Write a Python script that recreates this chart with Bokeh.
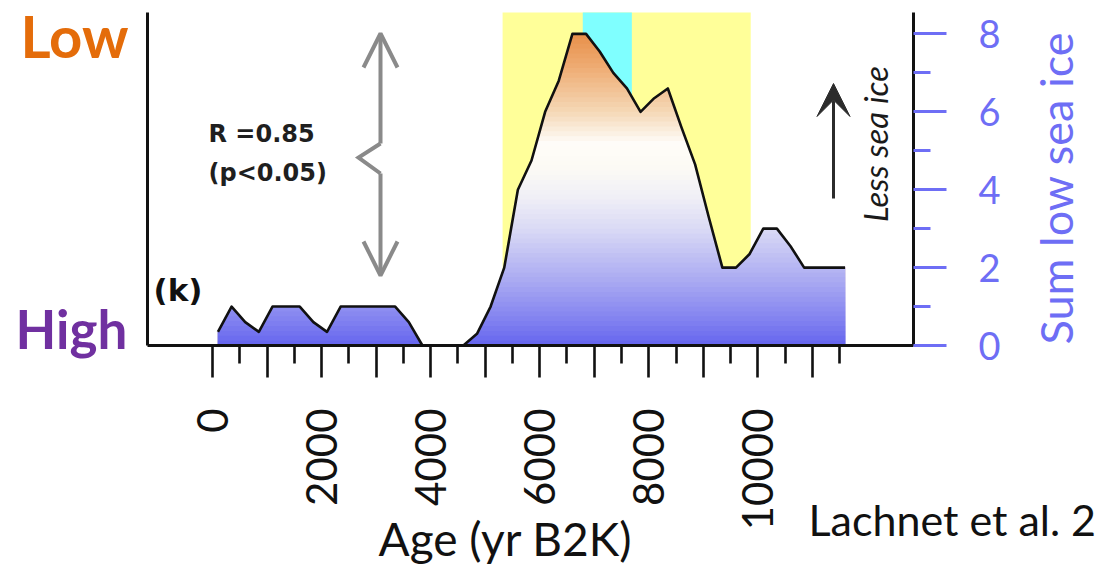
import numpy as np
from bokeh.plotting import figure
from bokeh.models import (Range1d, LinearAxis, FixedTicker, Label, Arrow,
                          OpenHead, VeeHead, BoxAnnotation)
from bokeh.embed import file_html
from bokeh.resources import INLINE

# ---------------- data ----------------
age_yr = [100, 350, 600, 850, 1100, 1350, 1600, 1850, 2100, 2350, 2600, 2850,
          3100, 3350, 3600, 3850, 4100, 4350, 4600, 4850, 5100, 5350, 5600,
          5850, 6100, 6350, 6600, 6850, 7100, 7350, 7600, 7850, 8100, 8350,
          8600, 8850, 9100, 9350, 9600, 9850, 10100, 10350, 10600, 10850,
          11100, 11350, 11600]
sum_low_sea_ice = [0.35, 1.0, 0.6, 0.35, 1.0, 1.0, 1.0, 0.6, 0.35, 1.0, 1.0, 1.0,
                   1.0, 1.0, 0.6, 0.0, 0.0, 0.0, 0.0, 0.3, 1.0, 2.0, 4.0,
                   4.75, 6.0, 6.8, 8.0, 8.0, 7.55, 7.0, 6.6, 6.0, 6.35, 6.6,
                   5.6, 4.65, 3.3, 2.0, 2.0, 2.35, 3.0, 3.0, 2.55, 2.0,
                   2.0, 2.0, 2.0]
yellow_period = [5320, 9870]
cyan_period = [6790, 7690]
x_major_ticks = [0, 1000, 2000, 3000, 4000, 5000, 6000, 7000, 8000, 9000, 10000, 11000]
x_minor_ticks = [500, 1500, 2500, 3500, 4500, 5500, 6500, 7500, 8500, 9500, 10500, 11500]
x_tick_labels = {0: "0", 2000: "2000", 4000: "4000", 6000: "6000", 8000: "8000", 10000: "10000"}
y_major_ticks = [0, 2, 4, 6, 8]
y_minor_ticks = [1, 3, 5, 7]

# ---------------- layout ----------------
W, H = 1095, 576
# axes box in pixels: left 147, right 913, top 12, bottom (value 0) 345
YR_PER_PX = (12855 + 1192) / (913 - 147)
VAL_PER_PX = 8.55 / (345 - 12)

def X(px):
    return -1192 + (px - 147) * YR_PER_PX

def Y(py):
    return (345 - py) * VAL_PER_PX

p = figure(width=W, height=H, x_range=Range1d(X(0), X(W)), y_range=Range1d(Y(H), Y(0)),
           x_axis_location=None, y_axis_location=None, toolbar_location=None,
           output_backend="svg", min_border=0, min_border_left=0, min_border_right=0,
           min_border_top=0, min_border_bottom=0, outline_line_color=None,
           background_fill_color="white", border_fill_color="white")
for g in p.grid:
    g.visible = False

BLUE = "#6E6EF5"
TOP = Y(12)

# background periods
p.add_layout(BoxAnnotation(left=yellow_period[0], right=yellow_period[1], bottom=0, top=TOP,
                           fill_color="#FFFF99", fill_alpha=1, line_color=None,
                           level="underlay"))
p.add_layout(BoxAnnotation(left=cyan_period[0], right=cyan_period[1], bottom=0, top=TOP,
                           fill_color="#7FFFFF", fill_alpha=1, line_color=None,
                           level="underlay"))

# gradient fill under the curve (stacked capped areas)
stops = [(0.0, "#6464EE"), (0.6, "#8080F0"), (1.7, "#ABABF2"), (3.0, "#DADAF5"),
         (3.8, "#F0EFF6"), (4.6, "#FDFBF5"), (5.2, "#FEFCF8"), (6.0, "#F5D8B6"),
         (7.2, "#EEAA70"), (8.0, "#E8904A")]

def hex2rgb(h):
    return [int(h[i:i + 2], 16) for i in (1, 3, 5)]

def grad(v):
    for (v0, c0), (v1, c1) in zip(stops[:-1], stops[1:]):
        if v <= v1:
            t = max(0.0, (v - v0) / (v1 - v0))
            a, b = hex2rgb(c0), hex2rgb(c1)
            return "#%02x%02x%02x" % tuple(int(round(a[i] + t * (b[i] - a[i]))) for i in range(3))
    return stops[-1][1]

xa = np.array(age_yr, float)
ya = np.array(sum_low_sea_ice, float)

def capped(cap):
    xs, ys = [xa[0]], [min(ya[0], cap)]
    for i in range(len(xa) - 1):
        x0, x1, y0, y1 = xa[i], xa[i + 1], ya[i], ya[i + 1]
        if (y0 - cap) * (y1 - cap) < 0:
            xs.append(x0 + (cap - y0) * (x1 - x0) / (y1 - y0))
            ys.append(cap)
        xs.append(x1)
        ys.append(min(y1, cap))
    return xs, ys

N = 64
top = float(ya.max())
for k in range(N, 0, -1):
    cap = top * k / N
    xs, ys = capped(cap)
    p.varea(x=xs, y1=0, y2=ys, fill_color=grad(top * (k - 0.5) / N))

p.line(age_yr, sum_low_sea_ice, line_color="#111111", line_width=2.6, line_join="round")

# axes (drawn at fixed locations around the data box)
bottom = LinearAxis(ticker=FixedTicker(ticks=x_major_ticks, minor_ticks=x_minor_ticks),
                    major_label_overrides={t: x_tick_labels.get(t, "") for t in x_major_ticks},
                    fixed_location=0, bounds=(X(147), X(913)))
bottom.axis_line_color = "#111111"
bottom.axis_line_width = 3
bottom.major_tick_line_color = "#111111"
bottom.major_tick_line_width = 2.6
bottom.minor_tick_line_color = "#111111"
bottom.minor_tick_line_width = 2.6
bottom.major_tick_in = 0
bottom.major_tick_out = 32
bottom.minor_tick_in = 0
bottom.minor_tick_out = 18
bottom.major_label_orientation = np.pi / 2
bottom.major_label_standoff = 31
bottom.major_label_text_font = "Lato"
bottom.major_label_text_font_size = "42px"
bottom.major_label_text_color = "#111111"
p.add_layout(bottom, "below")

left = LinearAxis(ticker=FixedTicker(ticks=[]), fixed_location=X(147), bounds=(0, TOP))
left.axis_line_color = "#111111"
left.axis_line_width = 3
left.major_tick_line_color = None
left.minor_tick_line_color = None
left.major_label_text_font_size = "0px"
p.add_layout(left, "left")

right = LinearAxis(ticker=FixedTicker(ticks=y_major_ticks, minor_ticks=y_minor_ticks),
                   fixed_location=X(913), bounds=(0, TOP))
right.axis_line_color = "#111111"
right.axis_line_width = 3
right.major_tick_line_color = BLUE
right.major_tick_line_width = 3
right.minor_tick_line_color = BLUE
right.minor_tick_line_width = 3
right.major_tick_in = 0
right.major_tick_out = 33
right.minor_tick_in = 0
right.minor_tick_out = 17
right.major_label_standoff = 32
right.major_label_text_font = "Lato"
right.major_label_text_font_size = "38px"
right.major_label_text_color = BLUE
p.add_layout(right, "right")

# texts (px, py = wanted baseline position in pixels)
def lab(px, py, text, font="Lato", size=40, style="normal", color="#111111",
        align="left", angle=0):
    shift = 0.38 * size
    if angle:
        px -= shift
    else:
        py -= shift
    p.add_layout(Label(x=X(px), y=Y(py), text=text, text_font=font, text_font_size=f"{size}px",
                       text_font_style=style, text_color=color, text_align=align,
                       text_baseline="alphabetic", angle=angle))

lab(20, 57, "Low", size=58, style="bold", color="#E46C0A")
lab(15, 348, "High", size=53, style="bold", color="#7030A0")
lab(153, 301, "(k)", font="DejaVu Sans", size=31, style="bold")
lab(208, 143, "R =0.85", font="DejaVu Sans", size=24, style="bold", color="#1F1F1F")
lab(208, 182, "(p<0.05)", font="DejaVu Sans", size=24, style="bold", color="#1F1F1F")
lab(887, 143.5, "Less sea ice", size=33, style="italic", color="#1A1A1A",
    align="center", angle=np.pi / 2)
lab(1073, 187.5, "Sum low sea ice", size=45, color=BLUE, align="center", angle=np.pi / 2)
lab(505, 555, "Age (yr B2K)", size=46, align="center")
lab(808, 535, "Lachnet et al. 2", size=43, color="#111111")

# gray correlation arrow with kink
GRAY = "#8A8A8A"
p.line([X(380), X(358), X(380)], [Y(143), Y(157), Y(173)], line_color=GRAY,
       line_width=4, line_join="miter")
p.add_layout(Arrow(end=OpenHead(size=34, line_color=GRAY, line_width=4),
                   x_start=X(380), y_start=Y(143), x_end=X(380), y_end=Y(33),
                   line_color=GRAY, line_width=4))
p.add_layout(Arrow(end=OpenHead(size=34, line_color=GRAY, line_width=4),
                   x_start=X(380), y_start=Y(173), x_end=X(380), y_end=Y(275),
                   line_color=GRAY, line_width=4))

# black "less sea ice" arrow
p.add_layout(Arrow(end=VeeHead(size=33, fill_color="#2B2B2B", line_color="#2B2B2B"),
                   x_start=X(833), y_start=Y(198), x_end=X(833), y_end=Y(83),
                   line_color="#2B2B2B", line_width=3))

open("out.html", "w").write(file_html(p, INLINE))
